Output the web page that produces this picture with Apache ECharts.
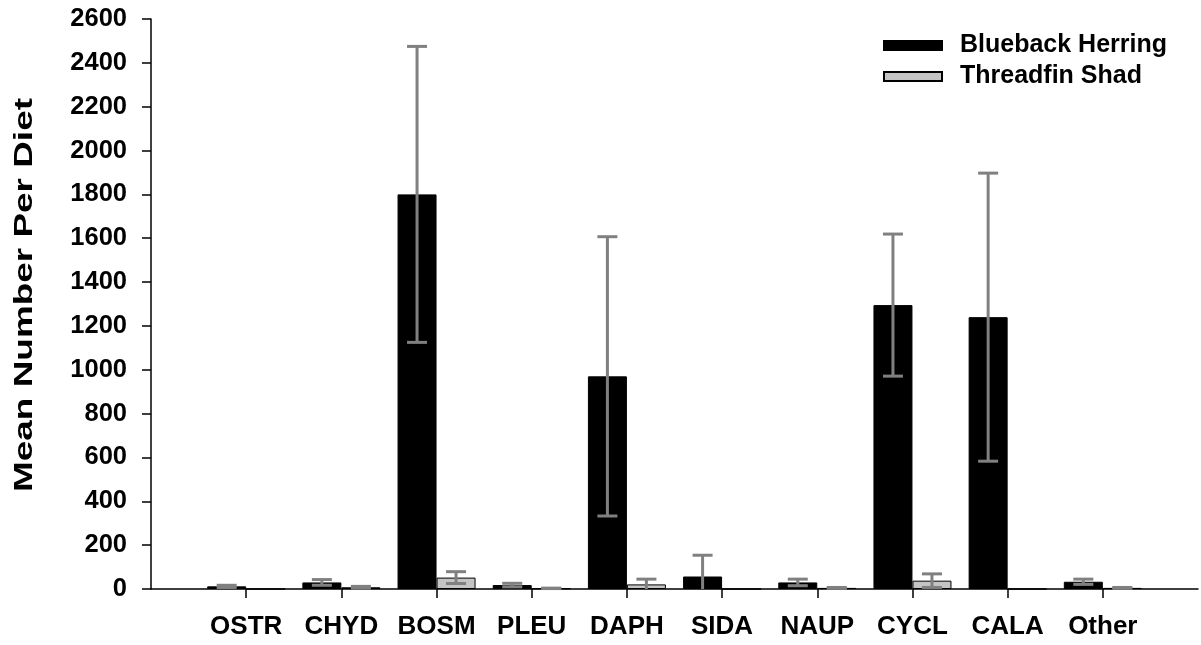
<!DOCTYPE html>
<html>
<head>
<meta charset="utf-8">
<script src="https://cdn.jsdelivr.net/npm/echarts@6/dist/echarts.min.js"></script>
<style>
html,body{margin:0;padding:0;background:#fff;}
#chart{width:1201px;height:645px;}
</style>
</head>
<body>
<div id="chart"></div>
<script>
// ---- data ----
var categories = ['OSTR', 'CHYD', 'BOSM', 'PLEU', 'DAPH', 'SIDA', 'NAUP', 'CYCL', 'CALA', 'Other'];
var bluebackMean = [12, 30, 1800, 18, 970, 57, 30, 1295, 1240, 33];
var bluebackErr  = [5, 13, 675, 8, 637, 97, 15, 324, 657, 12];
var threadfinMean = [0, 8, 52, 3, 21, 0, 5, 38, 0, 5];
var threadfinErr  = [0, 4, 27, 1, 24, 0, 2, 31, 0, 2];
var yTicks = [0, 200, 400, 600, 800, 1000, 1200, 1400, 1600, 1800, 2000, 2200, 2400, 2600];

var FONT = '"Liberation Sans", Arial, sans-serif';
var BAR_W = 39;

// padded category axis so the x axis spans beyond the first/last category
var axisCats = [''].concat(categories, ['']);
function pad(arr) { return ['-'].concat(arr, ['-']); }

function errData(means, errs) {
  return means.map(function (m, i) { return [i + 1, m, errs[i]]; });
}

function makeErrRender(sign) {
  return function (params, api) {
    var idx = api.value(0), m = api.value(1), e = api.value(2);
    if (!(e > 0)) return null;
    var hi = api.coord([idx, m + e]);
    var lowVal = m - e;
    var lo = api.coord([idx, Math.max(0, lowVal)]);
    var x = hi[0] + sign * BAR_W / 2;
    var capHalf = 10;
    var style = { stroke: '#808080', lineWidth: 3 };
    var children = [
      { type: 'line', shape: { x1: x, y1: hi[1], x2: x, y2: lo[1] }, style: style },
      { type: 'line', shape: { x1: x - capHalf, y1: hi[1], x2: x + capHalf, y2: hi[1] }, style: style }
    ];
    if (lowVal >= 0) {
      children.push({ type: 'line', shape: { x1: x - capHalf, y1: lo[1], x2: x + capHalf, y2: lo[1] }, style: style });
    }
    return { type: 'group', children: children };
  };
}

var chart = echarts.init(document.getElementById('chart'), null, { renderer: 'canvas' });
chart.setOption({
  animation: false,
  backgroundColor: '#ffffff',
  grid: { left: 151, right: 1, top: 19, bottom: 56, containLabel: false },
  legend: {
    data: ['Blueback Herring', 'Threadfin Shad'],
    orient: 'vertical',
    left: 883,
    top: 33,
    padding: 0,
    itemWidth: 58,
    itemHeight: 9,
    itemGap: 6,
    icon: 'rect',
    selectedMode: false,
    textStyle: { fontFamily: FONT, fontWeight: 'bold', fontSize: 25, color: '#000', padding: [4, 0, 0, 13] }
  },
  graphic: [{
    type: 'text',
    x: 25,
    y: 295,
    rotation: Math.PI / 2,
    scaleX: 1.42,
    style: {
      text: 'Mean Number Per Diet',
      font: 'bold 26px ' + FONT,
      fill: '#000',
      textAlign: 'center',
      textVerticalAlign: 'middle'
    }
  }],
  xAxis: {
    type: 'category',
    data: axisCats,
    boundaryGap: false,
    axisLine: { lineStyle: { color: '#000', width: 1.5 } },
    axisTick: {
      show: true, length: 9, lineStyle: { color: '#000', width: 1.5 },
      interval: function (i, v) { return v !== ''; }
    },
    axisLabel: {
      interval: 0, margin: 25,
      fontFamily: FONT, fontWeight: 'bold', fontSize: 26, color: '#000'
    },
    splitLine: { show: false }
  },
  yAxis: {
    type: 'value',
    min: yTicks[0],
    max: yTicks[yTicks.length - 1],
    interval: yTicks[1] - yTicks[0],
    axisLine: { show: true, lineStyle: { color: '#000', width: 1.5 } },
    axisTick: { show: true, length: 9, lineStyle: { color: '#000', width: 1.5 } },
    axisLabel: {
      margin: 24, fontFamily: FONT, fontWeight: 'bold', fontSize: 25.5, color: '#000',
      formatter: function (v) { return String(v); }
    },
    splitLine: { show: false }
  },
  series: [
    {
      name: 'Blueback Herring', type: 'bar', data: pad(bluebackMean),
      barWidth: BAR_W, barGap: '0%',
      itemStyle: { color: '#000000', borderColor: '#000', borderWidth: 1 }
    },
    {
      name: 'Threadfin Shad', type: 'bar', data: pad(threadfinMean),
      barWidth: BAR_W, barGap: '0%',
      itemStyle: { color: '#c4c4c4', borderColor: '#000', borderWidth: 1 }
    },
    {
      name: 'bbErr', type: 'custom', data: errData(bluebackMean, bluebackErr),
      renderItem: makeErrRender(-1), silent: true, z: 10,
      encode: { x: 0, y: 1 }
    },
    {
      name: 'tsErr', type: 'custom', data: errData(threadfinMean, threadfinErr),
      renderItem: makeErrRender(1), silent: true, z: 10,
      encode: { x: 0, y: 1 }
    }
  ]
});
</script>
</body>
</html>
